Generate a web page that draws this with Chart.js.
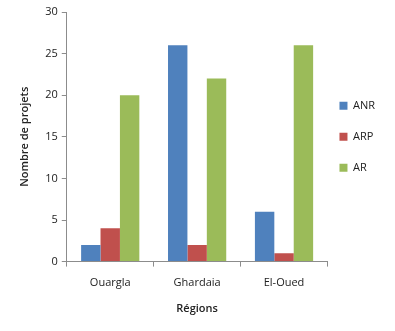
<!DOCTYPE html>
<html>
<head>
<meta charset="utf-8">
<script src="https://cdn.jsdelivr.net/npm/chart.js@4"></script>
<style>
  html, body { margin: 0; padding: 0; background: #fff; }
  #wrap { width: 395px; height: 331px; }
</style>
</head>
<body>
<div id="wrap"><canvas id="myChart"></canvas></div>
<script>
const regions = ['Ouargla', 'Ghardaia', 'El-Oued'];
const anr = [2, 26, 6];
const arp = [4, 2, 1];
const ar = [20, 22, 26];
const yTicks = [0, 5, 10, 15, 20, 25, 30];

const axisColor = '#8c8c8c';
const font = { family: "'Open Sans', 'Liberation Sans', sans-serif", size: 11 };

// pull the legend a bit closer to the plot
const legendShift = {
    id: 'legendShift',
    afterLayout(chart) {
        chart.legend.left -= 8;
        chart.legend.right -= 8;
    }
};

const ctx = document.getElementById('myChart').getContext('2d');
new Chart(ctx, {
    type: 'bar',
    data: {
        labels: regions,
        datasets: [
            { label: 'ANR', data: anr, backgroundColor: '#4F81BD' },
            { label: 'ARP', data: arp, backgroundColor: '#C0504D' },
            { label: 'AR', data: ar, backgroundColor: '#9BBB59' }
        ]
    },
    options: {
        responsive: true,
        maintainAspectRatio: false,
        animation: false,
        layout: { padding: { top: 12, left: 14, right: 2, bottom: 12 } },
        datasets: { bar: { categoryPercentage: 0.67, barPercentage: 1 } },
        plugins: {
            tooltip: { enabled: false },
            legend: {
                position: 'right',
                fullSize: false,
                labels: { boxWidth: 8, boxHeight: 8, padding: 20, color: '#222', font: font }
            }
        },
        scales: {
            x: {
                border: { color: axisColor, width: 1 },
                grid: { drawOnChartArea: false, drawTicks: true, tickLength: 5, color: axisColor, offset: true },
                ticks: { color: '#222', font: font, padding: 10 },
                title: { display: true, text: 'Régions', color: '#222', font: { family: font.family, size: 11, weight: '600' }, padding: { top: 2 } }
            },
            y: {
                min: 0,
                max: 30,
                afterBuildTicks: axis => { axis.ticks = yTicks.map(v => ({ value: v })); },
                border: { color: axisColor, width: 1 },
                grid: { drawOnChartArea: false, drawTicks: true, tickLength: 5, color: axisColor },
                ticks: { color: '#222', font: font, padding: 4 },
                title: { display: true, text: 'Nombre de projets', color: '#222', font: { family: font.family, size: 11, weight: '600' }, padding: { bottom: 10 } }
            }
        }
    },
    plugins: [legendShift]
});
</script>
</body>
</html>
